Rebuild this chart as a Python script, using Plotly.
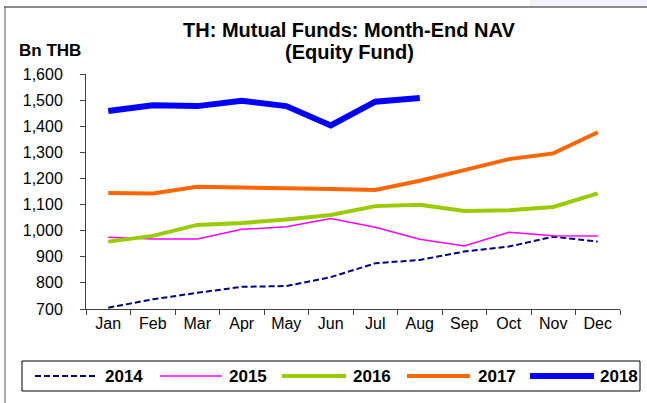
import plotly.graph_objects as go

# ---- data -------------------------------------------------------------
months = ["Jan", "Feb", "Mar", "Apr", "May", "Jun",
          "Jul", "Aug", "Sep", "Oct", "Nov", "Dec"]

nav_2014 = [705, 737, 762, 785, 788, 822, 875, 888, 920, 939, 977, 958]
nav_2015 = [975, 968, 968, 1005, 1015, 1047, 1013, 967, 941, 994, 981, 980]
nav_2016 = [958, 980, 1022, 1029, 1043, 1060, 1094, 1099, 1075, 1078, 1091, 1143]
nav_2017 = [1144, 1142, 1168, 1166, 1162, 1160, 1156, 1191, 1232, 1274, 1296, 1377]
nav_2018 = [1458, 1480, 1477, 1497, 1477, 1403, 1494, 1508]

y_ticks = [700, 800, 900, 1000, 1100, 1200, 1300, 1400, 1500, 1600]

series = [
    ("2014", nav_2014, "#000080", 2, "6px,3px"),
    ("2015", nav_2015, "#FF00FF", 1.5, "solid"),
    ("2016", nav_2016, "#99CC00", 4, "solid"),
    ("2017", nav_2017, "#FF6600", 4, "solid"),
    ("2018", nav_2018, "#0000FF", 6, "solid"),
]

# ---- figure geometry (pixels) ---------------------------------------------
W, H = 647, 403
L, R, T, B = 86, 620, 74, 309   # plot area edges


def px(x):
    return (x - L) / (R - L)


def py(y):
    return (B - y) / (B - T)


FONT = "Arial, Liberation Sans, sans-serif"

fig = go.Figure()
for name, vals, color, width, dash in series:
    fig.add_trace(go.Scatter(
        x=months[:len(vals)], y=vals, name=name, mode="lines",
        line=dict(color=color, width=width, dash=dash),
        showlegend=False, hoverinfo="x+y+name",
    ))

fig.update_layout(
    width=W, height=H,
    margin=dict(l=L, r=W - R, t=T, b=H - B, pad=0),
    paper_bgcolor="white", plot_bgcolor="white",
    font=dict(family=FONT, color="black", size=15),
    xaxis=dict(
        type="category", categoryorder="array", categoryarray=months,
        range=[-0.5, 11.5], tickson="boundaries",
        ticks="outside", ticklen=5, tickcolor="#404040",
        showline=True, linecolor="#404040", linewidth=1,
        showgrid=False, zeroline=False,
        tickfont=dict(size=16),
    ),
    yaxis=dict(
        range=[700, 1600], tickvals=y_ticks,
        ticktext=[f"{v:,}" for v in y_ticks],
        ticks="outside", ticklen=5, tickcolor="#404040",
        ticklabelstandoff=14,
        showline=True, linecolor="#404040", linewidth=1,
        showgrid=False, zeroline=False,
        tickfont=dict(size=16),
    ),
)

# ---- title and unit label ---------------------------------------------------
fig.add_annotation(x=px(349), y=py(30), xref="paper", yref="paper",
                   text="<b>TH: Mutual Funds: Month-End NAV</b>",
                   showarrow=False, font=dict(size=20), xanchor="center", yanchor="middle")
fig.add_annotation(x=px(349), y=py(52), xref="paper", yref="paper",
                   text="<b>(Equity Fund)</b>",
                   showarrow=False, font=dict(size=20), xanchor="center", yanchor="middle")
fig.add_annotation(x=px(17), y=py(50), xref="paper", yref="paper",
                   text="<b>Bn THB</b>",
                   showarrow=False, font=dict(size=17), xanchor="left", yanchor="middle")

# ---- slide frame ------------------------------------------------------------
fig.add_shape(type="rect", xref="paper", yref="paper",
              x0=px(530), x1=px(647), y0=py(0), y1=py(6),
              line=dict(width=0), fillcolor="#F1F2FA", layer="below")
fig.add_shape(type="line", xref="paper", yref="paper",
              x0=px(4), x1=px(647), y0=py(7), y1=py(7),
              line=dict(color="#8C8C8C", width=2))
fig.add_shape(type="line", xref="paper", yref="paper",
              x0=px(5), x1=px(5), y0=py(7), y1=py(403),
              line=dict(color="#555555", width=1))

# ---- legend -----------------------------------------------------------------
fig.add_shape(type="rect", xref="paper", yref="paper",
              x0=px(22), x1=px(640), y0=py(361), y1=py(391),
              line=dict(color="black", width=1), fillcolor="white")
legend_x = [(35, 95, 103), (160, 222, 227), (282, 346, 351),
            (407, 470, 476), (530, 594, 598)]
for (name, _, color, width, dash), (x0, x1, xt) in zip(series, legend_x):
    fig.add_shape(type="line", xref="paper", yref="paper",
                  x0=px(x0), x1=px(x1), y0=py(376), y1=py(376),
                  line=dict(color=color, width=width, dash=dash))
    fig.add_annotation(x=px(xt), y=py(376), xref="paper", yref="paper",
                       text=f"<b>{name}</b>", showarrow=False,
                       font=dict(size=17), xanchor="left", yanchor="middle")

fig.write_html("out.html")
